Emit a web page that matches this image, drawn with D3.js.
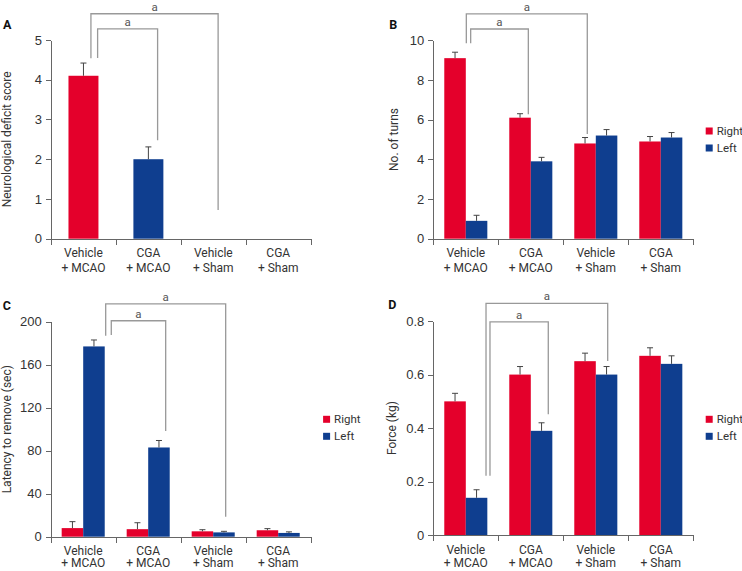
<!DOCTYPE html>
<meta charset="utf-8">
<style>
body { margin: 0; background: #fff; }
svg { font-family: Roboto, "Liberation Sans", Arial, sans-serif; }
.axis path, .axis line { stroke: #666; shape-rendering: crispEdges; }
.axis text { fill: #333; font-size: 13px; }
.cat { fill: #333; font-size: 12px; text-anchor: middle; }
.ytitle { fill: #333; font-size: 12px; text-anchor: middle; }
.letter { fill: #111; font-size: 12.5px; font-weight: bold; }
.legend text { fill: #333; font-size: 11.5px; }
.err { stroke: #444; stroke-width: 1; fill: none; }
.bracket { stroke: #999; stroke-width: 1.3; fill: none; }
.sig { fill: #555; font-size: 11.5px; text-anchor: middle; }
</style>
<head>
  <script src="https://d3js.org/d3.v7.min.js"></script>
</head>
<svg width="742" height="571"></svg>
<script>

// groups and series
var groups = [["Vehicle", "+ MCAO"], ["CGA", "+ MCAO"], ["Vehicle", "+ Sham"], ["CGA", "+ Sham"]];
var sides = ["Right", "Left"];
var sideColors = ["#e4002b", "#0f3e8f"];

// A - neurological deficit score (one bar per group)
var scoreValues = [4.1, 2.0, 0, 0];
var scoreErrors = [0.32, 0.31, 0, 0];
var scoreSide = [0, 1, 0, 1];
var scoreTicks = [0, 1, 2, 3, 4, 5];

// B - number of turns
var turnsRight = [9.1, 6.1, 4.8, 4.9];
var turnsRightErr = [0.3, 0.2, 0.3, 0.25];
var turnsLeft = [0.9, 3.9, 5.2, 5.1];
var turnsLeftErr = [0.28, 0.2, 0.3, 0.25];
var turnsTicks = [0, 2, 4, 6, 8, 10];

// C - latency to remove (sec)
var latencyRight = [8, 7, 5, 6];
var latencyRightErr = [6, 6, 1.5, 1.5];
var latencyLeft = [177, 83, 4, 3.5];
var latencyLeftErr = [6, 6.5, 1, 1];
var latencyTicks = [0, 40, 80, 120, 160, 200];

// D - force (kg)
var forceRight = [0.50, 0.60, 0.65, 0.67];
var forceRightErr = [0.03, 0.03, 0.03, 0.03];
var forceLeft = [0.14, 0.39, 0.60, 0.64];
var forceLeftErr = [0.03, 0.03, 0.03, 0.03];
var forceTicks = [0, 0.2, 0.4, 0.6, 0.8];

// significance brackets: [from group pos, to group pos, top, left foot, right foot]
var scoreBrackets = [[0.615, 2.574, 5.66, 4.54, 0.72], [0.718, 1.642, 5.28, 4.55, 2.48]];
var turnsBrackets = [[0.508, 2.369, 11.33, 9.85, 5.28], [0.575, 1.462, 10.57, 9.85, 6.27]];
var latencyBrackets = [[0.846, 2.692, 216.5, 187, 18.6], [0.932, 1.769, 200.9, 187.6, 98.3]];
var forceBrackets = [[0.811, 2.683, 0.866, 0.222, 0.651], [0.872, 1.769, 0.797, 0.222, 0.452]];

var svg = d3.select("svg");

function pairs(vals, errs) {
  return vals.map(function(v, i) { return {v: v, e: errs[i]}; });
}

function drawPanel(p) {
  var w = p.right - p.left, h = p.bottom - p.top;
  var g = svg.append("g").attr("transform", "translate(" + p.left + "," + p.top + ")");

  var x = d3.scaleBand().domain(d3.range(groups.length)).range([0, w]);
  var xEdge = d3.scaleLinear().domain([0, groups.length]).range([0, w]);
  var y = d3.scaleLinear().domain([0, d3.max(p.ticks)]).range([h, 0]);

  // bars
  var inner = d3.scaleBand().domain(d3.range(p.series.length)).range([0, x.bandwidth()])
      .paddingOuter(p.series.length > 1 ? 0.51 : 0.583);

  p.series.forEach(function(s, si) {
    var bars = g.append("g");
    s.data.forEach(function(d, i) {
      if (d.v <= 0) return;
      var bx = x(i) + inner(si);
      var color = sideColors[s.colorOf ? s.colorOf[i] : si];
      bars.append("rect")
          .attr("x", bx)
          .attr("y", y(d.v))
          .attr("width", inner.bandwidth())
          .attr("height", h - y(d.v))
          .attr("fill", color);
      var cx = bx + inner.bandwidth() / 2;
      bars.append("path").attr("class", "err")
          .attr("d", "M" + cx + "," + y(d.v) + "V" + y(d.v + d.e) + "M" + (cx - 3) + "," + y(d.v + d.e) + "H" + (cx + 3));
    });
  });

  // axes
  g.append("g").attr("class", "axis")
      .attr("transform", "translate(0," + h + ")")
      .call(d3.axisBottom(xEdge).tickValues(d3.range(groups.length + 1)).tickFormat("").tickSize(6).tickSizeOuter(0));

  g.append("g").attr("class", "axis")
      .call(d3.axisLeft(y).tickValues(p.ticks).tickSize(5).tickSizeOuter(0).tickPadding(4)
        .tickFormat(p.fmt || function(d) { return d; }));

  // category labels
  groups.forEach(function(lines, i) {
    var cx = x(i) + x.bandwidth() / 2;
    var t = g.append("text").attr("class", "cat")
        .attr("x", cx).attr("y", h + p.labelY);
    t.append("tspan").attr("x", cx).text(lines[0]);
    t.append("tspan").attr("x", cx).attr("dy", p.labelGap).text(lines[1]);
  });

  // y title
  g.append("text").attr("class", "ytitle")
      .attr("transform", "translate(" + (-p.titleOff) + "," + (h / 2) + ") rotate(-90)")
      .attr("dy", "0.35em")
      .text(p.title);

  // panel letter
  g.append("text").attr("class", "letter")
      .attr("x", -p.letterOff).attr("y", p.letterY - p.top + 4.5)
      .text(p.letter);

  // brackets
  var bx = function(pos) { return pos * x.bandwidth(); };
  p.brackets.forEach(function(b) {
    g.append("path").attr("class", "bracket")
        .attr("d", "M" + bx(b[0]) + "," + y(b[3]) + "V" + y(b[2]) + "H" + bx(b[1]) + "V" + y(b[4]));
    g.append("text").attr("class", "sig")
        .attr("x", (bx(b[0]) + bx(b[1])) / 2)
        .attr("y", y(b[2]) - 3)
        .text("a");
  });

  // legend
  if (p.legend) {
    var lg = g.append("g").attr("class", "legend")
        .attr("transform", "translate(" + (w + 12.4) + "," + p.legendY + ")");
    sides.forEach(function(name, i) {
      lg.append("rect").attr("x", 0).attr("y", i * 17 - 3.5).attr("width", 7).attr("height", 7)
          .attr("fill", sideColors[i]);
      lg.append("text").attr("x", 11).attr("y", i * 17).attr("dy", "0.35em").text(name);
    });
  }
}

drawPanel({
  letter: "A", left: 51, right: 310.7, top: 40, bottom: 238.7, letterOff: 48, letterY: 24,
  title: "Neurological deficit score", titleOff: 44, ticks: scoreTicks, labelY: 18.5, labelGap: 15,
  series: [{data: pairs(scoreValues, scoreErrors), colorOf: scoreSide}],
  brackets: scoreBrackets, legend: false
});

drawPanel({
  letter: "B", left: 433.3, right: 693.3, top: 40.3, bottom: 238.7, letterOff: 44, letterY: 24,
  title: "No. of turns", titleOff: 40, ticks: turnsTicks, labelY: 18.5, labelGap: 15,
  series: [{data: pairs(turnsRight, turnsRightErr)}, {data: pairs(turnsLeft, turnsLeftErr)}],
  brackets: turnsBrackets, legend: true, legendY: 131 - 40.3
});

drawPanel({
  letter: "C", left: 50.7, right: 310.7, top: 321.7, bottom: 536.7, letterOff: 48, letterY: 305,
  title: "Latency to remove (sec)", titleOff: 44, ticks: latencyTicks, labelY: 18, labelGap: 12.8,
  series: [{data: pairs(latencyRight, latencyRightErr)}, {data: pairs(latencyLeft, latencyLeftErr)}],
  brackets: latencyBrackets, legend: true, legendY: 419.3 - 321.7
});

drawPanel({
  letter: "D", left: 433.3, right: 693.3, top: 321, bottom: 535.3, letterOff: 45, letterY: 304.3,
  title: "Force (kg)", titleOff: 42, ticks: forceTicks, labelY: 18.5, labelGap: 13.5,
  fmt: function(d) { return d === 0 ? "0" : d3.format(".1f")(d); },
  series: [{data: pairs(forceRight, forceRightErr)}, {data: pairs(forceLeft, forceLeftErr)}],
  brackets: forceBrackets, legend: true, legendY: 419.3 - 321
});

</script>
